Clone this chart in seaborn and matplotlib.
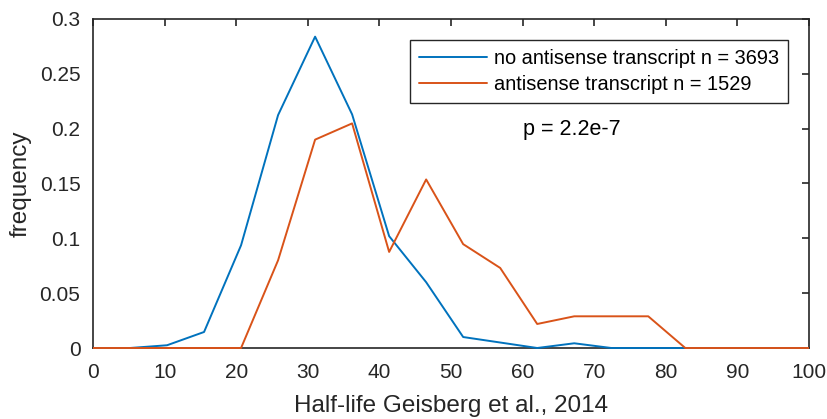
import numpy as np
import pandas as pd
import seaborn as sns
import matplotlib
matplotlib.use("Agg")
import matplotlib.pyplot as plt
from matplotlib.patches import Rectangle

# Bin centres of the half-life histogram
half_life = [0.0, 5.17, 10.34, 15.51, 20.68, 25.85, 31.02, 36.19, 41.36, 46.53,
             51.70, 56.87, 62.04, 67.21, 72.38, 77.55, 82.72, 87.89, 93.06, 98.23, 103.40]

# Relative frequencies per bin
freq_no_antisense = [0.0, 0.0, 0.0025, 0.0146, 0.0937, 0.2124, 0.2839, 0.2130, 0.1020,
                     0.0600, 0.0100, 0.0050, 0.0, 0.0043, 0.0, 0.0, 0.0, 0.0, 0.0, 0.0, 0.0]
freq_antisense = [0.0, 0.0, 0.0, 0.0, 0.0, 0.0800, 0.1900, 0.2048, 0.0876, 0.1537,
                  0.0947, 0.0730, 0.0219, 0.0289, 0.0289, 0.0289, 0.0, 0.0, 0.0, 0.0, 0.0]

labels = ["no antisense transcript n = 3693", "antisense transcript n = 1529"]
colors = ["#0072BD", "#D95319"]

x_ticks = [0, 10, 20, 30, 40, 50, 60, 70, 80, 90, 100]
y_ticks = [0, 0.05, 0.1, 0.15, 0.2, 0.25, 0.3]
y_tick_labels = ["0", "0.05", "0.1", "0.15", "0.2", "0.25", "0.3"]

df = pd.DataFrame({
    "half_life": half_life * 2,
    "frequency": freq_no_antisense + freq_antisense,
    "group": [labels[0]] * len(half_life) + [labels[1]] * len(half_life),
})

sns.set_style("white")
plt.rcParams["font.family"] = ["Liberation Sans", "DejaVu Sans"]

axis_color = "#262626"
fig = plt.figure(figsize=(8.28, 4.19), dpi=100)
ax = fig.add_axes([93 / 828, 1 - 348 / 419, (809 - 93) / 828, (348 - 19) / 419])

sns.lineplot(data=df, x="half_life", y="frequency", hue="group", hue_order=labels,
             palette=colors, linewidth=1.4, ax=ax, legend=True)

# Let the curves sit on top of the axis lines, clipped only at the left/right limits
clip_rect = Rectangle((0, -0.03), 1, 1.06, transform=ax.transAxes, visible=False)
ax.add_patch(clip_rect)
for line in ax.get_lines():
    line.set_zorder(3)
    line.set_clip_path(clip_rect)

ax.set_xlim(0, 100)
ax.set_ylim(0, 0.3)
ax.set_xticks(x_ticks)
ax.set_yticks(y_ticks)
ax.set_yticklabels(y_tick_labels)
ax.tick_params(direction="in", length=5, width=1.2, colors=axis_color,
               labelsize=15, top=True, right=True, labelcolor=axis_color)
ax.tick_params(axis="y", pad=9)
ax.tick_params(axis="x", pad=10.5)
for side in ["left", "right", "top", "bottom"]:
    ax.spines[side].set_visible(True)
    ax.spines[side].set_color(axis_color)
    ax.spines[side].set_linewidth(1.2)
    ax.spines[side].set_zorder(2.5)

ax.set_xlabel("Half-life Geisberg et al., 2014", fontsize=17.5, color=axis_color, labelpad=10)
ax.set_ylabel("frequency", fontsize=17.5, color=axis_color, labelpad=6)

leg = ax.legend(loc="upper right", bbox_to_anchor=(0.9707, 0.936), borderaxespad=0,
                frameon=True, fancybox=False, edgecolor=axis_color,
                handlelength=3.4, borderpad=0.45, labelspacing=0.35, handletextpad=0.35,
                prop={"size": 14.4})
leg.get_frame().set_linewidth(1.0)
leg.get_frame().set_alpha(1)
leg.set_zorder(5)
for t in leg.get_texts():
    t.set_color("black")

ax.text(60.1, 0.199, "p = 2.2e-7", fontsize=15.5, va="center", ha="left", color="black")

fig.savefig("out.png", dpi=100)
